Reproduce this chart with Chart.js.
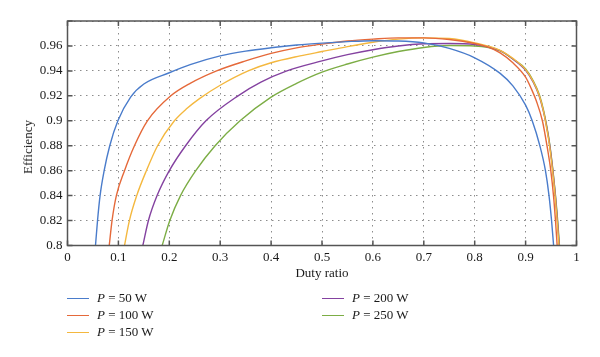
<!DOCTYPE html>
<html>
<head>
<meta charset="utf-8">
<script src="https://cdn.jsdelivr.net/npm/chart.js@4/dist/chart.umd.min.js"></script>
<style>
html,body{margin:0;padding:0;background:#fff;}
#wrap{position:relative;width:600px;height:357px;overflow:hidden;font-family:"Liberation Serif","DejaVu Serif",serif;color:#1a1a1a;}
#c{position:absolute;left:0;top:0;}
#ytitle{position:absolute;left:28px;top:147px;transform:translate(-50%,-50%) rotate(-90deg);font-size:13px;white-space:nowrap;}
.leg{position:absolute;font-size:13px;line-height:16px;white-space:nowrap;transform:translateY(-50%);}
.leg .sw{display:inline-block;width:22px;height:0;border-top:1.5px solid;vertical-align:middle;margin-right:8px;position:relative;top:-1px;}
</style>
</head>
<body>
<div id="wrap">
<canvas id="c" width="600" height="357"></canvas>
<div id="ytitle">Efficiency</div>
<div id="legend"></div>
</div>
<script>
// ---- data ----
const seriesLabels = ['P = 50 W', 'P = 100 W', 'P = 150 W', 'P = 200 W', 'P = 250 W'];
const seriesColors = ['#4a7ccb', '#e5693a', '#f4b83f', '#8442a0', '#7cad45'];

const duty50 = [0.055,0.059,0.064,0.072,0.083,0.099,0.124,0.15,0.2,0.241,0.3,0.35,0.4,0.45,0.5,0.55,0.6,0.65,0.7,0.75,0.8,0.85,0.875,0.9,0.913,0.928,0.939,0.946,0.951,0.955];
const eff50  = [0.800,0.820,0.840,0.860,0.880,0.900,0.919,0.9295,0.9385,0.945,0.952,0.9558,0.9585,0.9607,0.9623,0.9635,0.9642,0.964,0.9625,0.958,0.9505,0.938,0.928,0.9125,0.900,0.880,0.860,0.840,0.820,0.800];

const duty100 = [0.082,0.0875,0.096,0.112,0.1315,0.157,0.203,0.241,0.293,0.35,0.4,0.45,0.5,0.55,0.6,0.65,0.7,0.75,0.8,0.825,0.85,0.875,0.9,0.912,0.921,0.933,0.942,0.9495,0.9548,0.9587,0.962];
const eff100  = [0.800,0.820,0.840,0.860,0.880,0.900,0.920,0.930,0.940,0.948,0.954,0.9585,0.9615,0.964,0.9655,0.9665,0.9665,0.9652,0.962,0.9592,0.9545,0.9465,0.935,0.925,0.916,0.900,0.880,0.860,0.840,0.820,0.800];

const duty150 = [0.112,0.1216,0.136,0.155,0.177,0.21,0.235,0.26,0.3,0.355,0.4,0.457,0.5,0.55,0.6,0.65,0.7,0.75,0.8,0.85,0.875,0.9,0.915,0.927,0.935,0.941,0.947,0.953,0.958,0.962,0.9655];
const eff150  = [0.800,0.820,0.840,0.860,0.880,0.900,0.910,0.918,0.9285,0.940,0.9465,0.952,0.9555,0.9595,0.963,0.9655,0.9665,0.966,0.9625,0.9565,0.950,0.941,0.9315,0.920,0.908,0.895,0.880,0.860,0.840,0.820,0.800];

const duty200 = [0.148,0.159,0.176,0.2,0.232,0.272,0.335,0.38,0.431,0.5,0.55,0.6,0.65,0.7,0.75,0.8,0.85,0.875,0.9,0.915,0.927,0.935,0.9415,0.9475,0.9535,0.9585,0.9625,0.966];
const eff200  = [0.800,0.820,0.840,0.860,0.880,0.900,0.920,0.931,0.940,0.948,0.953,0.957,0.960,0.9617,0.962,0.9612,0.9562,0.9495,0.9405,0.931,0.9195,0.9075,0.895,0.880,0.860,0.840,0.820,0.800];

const duty250 = [0.186,0.201,0.222,0.252,0.29,0.339,0.4,0.45,0.5,0.55,0.6,0.65,0.7,0.75,0.8,0.85,0.875,0.9,0.915,0.927,0.935,0.9415,0.9475,0.9535,0.9585,0.963,0.9665];
const eff250  = [0.800,0.820,0.840,0.860,0.880,0.900,0.919,0.930,0.939,0.9455,0.951,0.9555,0.9588,0.9603,0.960,0.956,0.9495,0.9415,0.932,0.9208,0.909,0.896,0.881,0.861,0.841,0.820,0.800];

const xTickStep = 0.1;
const yTickStep = 0.02;
const xRange = [0, 1];
const yRange = [0.8, 0.98];
// --------------------------------------

const dutyAll = [duty50, duty100, duty150, duty200, duty250];
const effAll = [eff50, eff100, eff150, eff200, eff250];
const FONT = '"Liberation Serif","DejaVu Serif",serif';

const datasets = seriesLabels.map((lab, i) => ({
  label: lab,
  data: dutyAll[i].map((d, k) => ({x: d, y: effAll[i][k]})),
  borderColor: seriesColors[i],
  backgroundColor: seriesColors[i],
  borderWidth: 1.4,
  pointRadius: 0,
  fill: false,
  cubicInterpolationMode: 'monotone'
}));

function fmt(v){ return String(parseFloat(Number(v).toFixed(2))); }

const boxPlugin = {
  id: 'box',
  afterDraw(chart){
    const {ctx, chartArea: a, scales: {x, y}} = chart;
    ctx.save();
    ctx.strokeStyle = '#555';
    ctx.lineWidth = 1.5;
    ctx.strokeRect(a.left, a.top, a.right - a.left, a.bottom - a.top);
    ctx.beginPath();
    x.ticks.forEach((t, i) => {
      const px = x.getPixelForTick(i);
      ctx.moveTo(px, a.bottom); ctx.lineTo(px, a.bottom - 5);
      ctx.moveTo(px, a.top); ctx.lineTo(px, a.top + 5);
    });
    y.ticks.forEach((t, i) => {
      const py = y.getPixelForTick(i);
      ctx.moveTo(a.left, py); ctx.lineTo(a.left + 5, py);
      ctx.moveTo(a.right, py); ctx.lineTo(a.right - 5, py);
    });
    ctx.stroke();
    ctx.restore();
  }
};

new Chart(document.getElementById('c'), {
  type: 'line',
  data: {datasets},
  options: {
    responsive: false,
    animation: false,
    devicePixelRatio: 1,
    layout: {padding: {left: 0, top: 21, right: 23.5, bottom: 76}},
    plugins: {legend: {display: false}, tooltip: {enabled: false}},
    scales: {
      x: {
        type: 'linear', min: xRange[0], max: xRange[1],
        afterFit(s){ s.height = 35.5; },
        ticks: {stepSize: xTickStep, padding: 4, maxRotation: 0, autoSkip: false, color: '#1a1a1a',
                font: {family: FONT, size: 13}, callback: v => fmt(v)},
        grid: {color: '#8c8c8c', lineWidth: 1, drawTicks: false},
        border: {display: false, dash: [1.5, 4.5]},
        title: {display: true, text: 'Duty ratio', color: '#1a1a1a', font: {family: FONT, size: 13}, padding: {top: 0, bottom: 0}}
      },
      y: {
        type: 'linear', min: yRange[0], max: yRange[1],
        afterFit(s){ s.width = 67.5; },
        ticks: {stepSize: yTickStep, padding: 5, color: '#1a1a1a', font: {family: FONT, size: 13},
                callback: v => (v > 0.97 ? '' : fmt(v))},
        grid: {color: '#8c8c8c', lineWidth: 1, drawTicks: false},
        border: {display: false, dash: [1.5, 4.5]}
      }
    }
  },
  plugins: [boxPlugin]
});

// legend (two columns, like the reference)
const legPos = [[67, 298], [67, 315], [67, 332], [322, 298], [322, 315]];
const legend = document.getElementById('legend');
seriesLabels.forEach((lab, i) => {
  const d = document.createElement('div');
  d.className = 'leg';
  d.style.left = legPos[i][0] + 'px';
  d.style.top = legPos[i][1] + 'px';
  const sw = document.createElement('span');
  sw.className = 'sw';
  sw.style.borderTopColor = seriesColors[i];
  d.appendChild(sw);
  const it = document.createElement('i');
  it.textContent = lab.charAt(0);
  d.appendChild(it);
  d.appendChild(document.createTextNode(lab.slice(1)));
  legend.appendChild(d);
});
</script>
</body>
</html>
